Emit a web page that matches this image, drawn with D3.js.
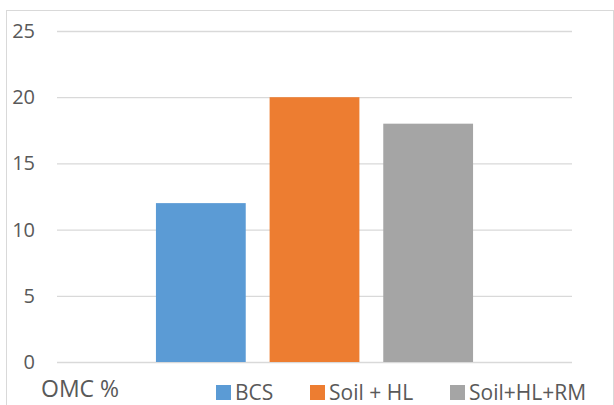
<!DOCTYPE html>
<html><head><meta charset="utf-8">
<script src="https://cdn.jsdelivr.net/npm/d3@7"></script>
<style>body{margin:0;background:#fff}svg{display:block}text{font-family:"Open Sans",sans-serif;fill:#595959}</style>
</head><body><svg id="c" width="614" height="405"></svg>
<script>
const categories = ["OMC %"];
const seriesNames = ["BCS", "Soil + HL", "Soil+HL+RM"];
const seriesValues = [[12], [20], [18]];
const seriesColors = ["#5B9BD5", "#ED7D31", "#A5A5A5"];
const yTicks = [0, 5, 10, 15, 20, 25];

(function () {
const svg = d3.select("#c");
svg.append("rect").attr("x", 6.5).attr("y", 10.5).attr("width", 607).attr("height", 410)
  .attr("fill", "none").attr("stroke", "#D9D9D9");

const pL = 57, pR = 572, pT = 31, pB = 362;
const y = d3.scaleLinear().domain([0, 25]).range([pB, pT]);
const x0 = d3.scaleBand().domain(categories).range([pL, pR]).paddingInner(0).paddingOuter(0.312);
const x1 = d3.scaleBand().domain(seriesNames).range([0, x0.bandwidth()]).paddingInner(0.21).paddingOuter(0);

const yAxis = svg.append("g").attr("transform", `translate(${pL},0)`)
  .call(d3.axisLeft(y).tickValues(yTicks).tickSize(-(pR - pL)).tickPadding(22));
yAxis.select(".domain").remove();
yAxis.selectAll(".tick line").attr("stroke", "#D9D9D9").attr("stroke-width", 1.3);
yAxis.selectAll(".tick text").attr("font-size", 20).style("font-family", '"Open Sans",sans-serif').attr("fill", "#595959");

categories.forEach((c, ci) => {
  const g = svg.append("g").attr("transform", `translate(${x0(c)},0)`);
  g.selectAll("rect").data(seriesNames).join("rect")
    .attr("x", d => x1(d))
    .attr("width", x1.bandwidth())
    .attr("y", (d, i) => y(seriesValues[i][ci]))
    .attr("height", (d, i) => pB - y(seriesValues[i][ci]))
    .attr("fill", (d, i) => seriesColors[i]);
});

svg.append("text").attr("x", 41).attr("y", 397).attr("font-size", 23).text(categories[0]);

const legendX = [216, 310, 450];
const lg = svg.append("g");
seriesNames.forEach((s, i) => {
  lg.append("rect").attr("x", legendX[i]).attr("y", 385).attr("width", 15).attr("height", 15).attr("fill", seriesColors[i]);
  lg.append("text").attr("x", legendX[i] + 19).attr("y", 400).attr("font-size", 21).text(s);
});
})();
</script></body></html>
